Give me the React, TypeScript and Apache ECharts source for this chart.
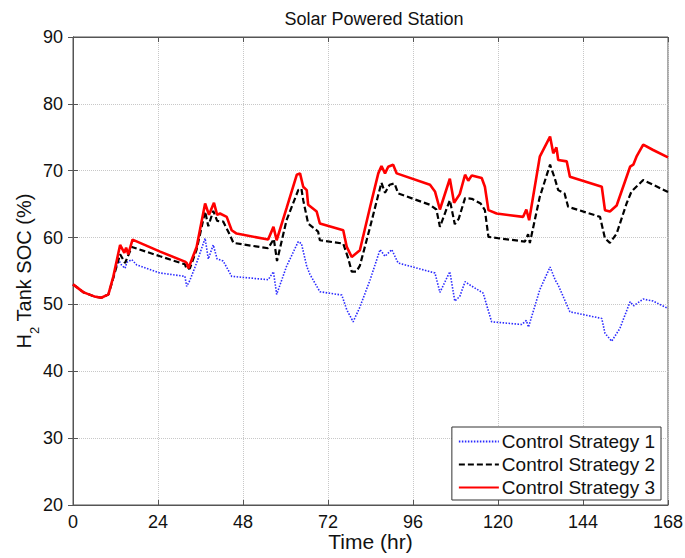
import React, { useEffect, useRef } from "react";
import * as echarts from "echarts";

const xTicks = [0, 24, 48, 72, 96, 120, 144, 168];
const seriesNames = ["Control Strategy 1", "Control Strategy 2", "Control Strategy 3"];

const strategy1: [number, number][] = [
  [0, 53], [3, 51.8], [6, 51.2], [8, 51], [10, 51.5], [11.4, 54], [12.8, 56.7], [13.7, 55.9],
  [14.7, 55.4], [15.2, 56.3], [16.6, 56.7], [18, 55.9], [24.6, 54.7], [31.6, 54.2], [32.1, 52.7],
  [33, 53.6], [34.9, 56.2], [37.3, 59.9], [38.2, 56.8], [39.6, 58.9], [40.7, 56.8], [42.4, 56.5],
  [44.8, 54.2], [55.1, 53.7], [56.6, 54.9], [57.5, 51.5], [60.3, 55.7], [63.6, 59.4], [64.5, 59.1],
  [66, 55.7], [66.9, 54.5], [69.7, 51.9], [75.9, 51.4], [77.3, 49.2], [79.1, 47.4], [81, 49.6],
  [83.9, 53.7], [86.7, 58.2], [88.1, 57.2], [90, 58.2], [91.8, 56.2], [100.8, 54.9], [102.2, 54.7],
  [103.6, 51.8], [106.4, 54.9], [107.8, 50.5], [109.2, 51.2], [110.7, 53.4], [112.1, 52.9],
  [115.8, 51.7], [118.2, 47.4], [126.7, 47], [128, 47.6], [128.6, 46.6], [131.8, 52.2],
  [134.7, 55.6], [136.2, 53.6], [137, 52.9], [140.3, 48.9], [149.3, 47.9], [150.2, 45.7],
  [152.1, 44.5], [154.4, 46.4], [157.3, 50.4], [158.3, 49.8], [161, 50.8], [163.8, 50.5], [168, 49.4],
];

const strategy2: [number, number][] = [
  [0, 53], [3, 51.8], [6, 51.2], [8, 51], [10, 51.5], [11.4, 54], [13.3, 57.5], [14.7, 56.2],
  [16.6, 58.6], [24.6, 57.2], [31.6, 56], [32.1, 55.3], [33, 55.4], [34.9, 58.2], [37.3, 63.9],
  [38.2, 61.7], [39.6, 64], [40.7, 62.5], [42.4, 62.4], [44.3, 60.4], [45.3, 59.2], [55.1, 58.4],
  [56.7, 59.8], [57.6, 56.5], [60.3, 62.6], [63.6, 67.1], [64.5, 67.3], [65, 65.6], [66.4, 62.1],
  [69.2, 60.9], [69.7, 59.6], [76.3, 59.1], [77.7, 56.9], [78.7, 54.9], [80, 54.9], [81, 55.8],
  [83.9, 61.6], [86.2, 66.4], [87.1, 68.2], [88.1, 66.7], [89.4, 67.9], [90.8, 68.1], [91.8, 66.6],
  [100.8, 64.9], [102.6, 64.2], [103.6, 61.6], [106.4, 65.6], [107.8, 62], [108.9, 62.8],
  [110.7, 65.9], [112.6, 65.8], [115.1, 65.1], [116.3, 64.1], [117.3, 60.1], [120.1, 59.9],
  [127.6, 59.4], [128.5, 60.5], [129, 59.2], [131.8, 66.1], [134.7, 70.9], [136, 68.9], [137, 67.1],
  [138.8, 66.6], [139.8, 64.6], [148.8, 63.1], [150.2, 59.9], [151.6, 59.2], [153.5, 60.6],
  [156.3, 65.1], [157.7, 66.9], [161, 68.6], [163.8, 67.9], [168, 66.8],
];

const strategy3: [number, number][] = [
  [0, 53], [3, 51.8], [6, 51.2], [8, 51], [10, 51.5], [11.4, 54.2], [13.3, 58.9], [14.5, 57.7],
  [15, 58.5], [15.6, 57.5], [16.8, 59.7], [24.6, 57.9], [31.6, 56.4], [32.1, 56.2], [32.6, 55.4],
  [34.9, 58.6], [37.3, 65.1], [38.4, 63.4], [39.8, 65.2], [40.7, 63.4], [41.5, 63.6], [43.4, 63.1],
  [44.8, 61.1], [46.2, 60.6], [55.1, 59.7], [56.6, 61.6], [57.5, 59.6], [60.3, 64.4], [63.2, 69.4],
  [64.1, 69.6], [65, 67.6], [66, 67.1], [66.4, 64.9], [68.8, 63.9], [69.7, 62.1], [76.3, 61.1],
  [77.3, 58.6], [78.7, 57.1], [81, 58.1], [83.9, 64.6], [86.2, 69.6], [87.1, 70.7], [88.1, 69.6],
  [89, 70.6], [90.4, 70.9], [91.4, 69.6], [100.8, 67.9], [102.2, 66.9], [103.6, 64.2], [106.4, 68.8],
  [107.6, 65.2], [109.2, 66.5], [110.7, 69.4], [111.6, 68.5], [112.6, 69.3], [115.4, 68.9],
  [116.3, 67.6], [117.3, 64.1], [119.6, 63.6], [127.1, 63.1], [128, 64.2], [128.8, 62.6],
  [131.8, 72.1], [134.7, 75.1], [135.6, 72.6], [136.5, 73.5], [137, 71.6], [139.4, 71.4],
  [140.3, 69.1], [149.3, 67.6], [150.2, 64.1], [151.6, 63.9], [153.5, 64.8], [157.3, 70.6],
  [158.2, 70.9], [159.1, 72.1], [161, 73.9], [163.8, 73.1], [168, 72],
];

const FONT = "Liberation Sans, Arial, sans-serif";

export default function App() {
  const ref = useRef<HTMLDivElement>(null);
  useEffect(() => {
    document.body.style.margin = "0";
    if (!ref.current) return;
    const chart = echarts.init(ref.current, undefined, { renderer: "svg" });
    const gridCol = "#c8c8c8";
    const axisCol = "#555";
    chart.setOption({
      animation: false,
      backgroundColor: "#fff",
      title: {
        text: "Solar Powered Station",
        left: 369,
        top: 5,
        textAlign: "center",
        textStyle: { fontFamily: FONT, fontSize: 18, fontWeight: "normal", color: "#111" },
      },
      grid: {
        left: 73, right: 17, top: 37, bottom: 53,
        containLabel: false,
        outerBoundsMode: "none",
        show: true, borderColor: axisCol, borderWidth: 1,
      },
      legend: {
        orient: "vertical",
        right: 24,
        bottom: 58,
        backgroundColor: "#fff",
        borderColor: "#333",
        borderWidth: 1,
        borderRadius: 0,
        padding: [5, 6, 3, 6],
        itemWidth: 40,
        itemHeight: 14,
        itemGap: 4,
        itemStyle: { opacity: 0 },
        textStyle: { fontFamily: FONT, fontSize: 19, color: "#111", padding: [0, 0, 0, -2] },
        data: seriesNames,
      },
      xAxis: [
        {
          type: "value", min: 0, max: 168, interval: 24,
          name: "Time (hr)", nameLocation: "middle", nameGap: 26, nameMoveOverlap: false,
          nameTextStyle: { fontFamily: FONT, fontSize: 21, color: "#111" },
          axisLine: { show: true, lineStyle: { color: axisCol } },
          axisTick: { show: true, inside: true, length: 5, lineStyle: { color: axisCol } },
          axisLabel: { fontFamily: FONT, fontSize: 18, color: "#111", margin: 8,
            formatter: (v: number) => (xTicks.includes(v) ? String(v) : "") },
          splitLine: { show: true, lineStyle: { color: gridCol, type: "dotted" } },
        },
        {
          type: "value", min: 0, max: 168, interval: 24, position: "top",
          axisLine: { show: true, lineStyle: { color: axisCol } },
          axisTick: { show: true, inside: true, length: 5, lineStyle: { color: axisCol } },
          axisLabel: { show: false },
          splitLine: { show: false },
        },
      ],
      yAxis: [
        {
          type: "value", min: 20, max: 90, interval: 10,
          name: "{a|H}{s|2}{a| Tank SOC (%)}",
          nameLocation: "middle", nameGap: 39, nameMoveOverlap: false,
          nameTextStyle: {
            fontFamily: FONT, fontSize: 20, color: "#111",
            rich: {
              a: { fontFamily: FONT, fontSize: 20, color: "#111", lineHeight: 24, verticalAlign: "bottom" },
              s: { fontFamily: FONT, fontSize: 13, color: "#111", lineHeight: 24, verticalAlign: "bottom", padding: [0, 0, -7, 0] },
            },
          },
          axisLine: { show: true, lineStyle: { color: axisCol } },
          axisTick: { show: true, inside: true, length: 5, lineStyle: { color: axisCol } },
          axisLabel: { fontFamily: FONT, fontSize: 18, color: "#111", margin: 10 },
          splitLine: { show: true, lineStyle: { color: gridCol, type: "dotted" } },
        },
        {
          type: "value", min: 20, max: 90, interval: 10, position: "right",
          axisLine: { show: true, lineStyle: { color: axisCol } },
          axisTick: { show: true, inside: true, length: 5, lineStyle: { color: axisCol } },
          axisLabel: { show: false },
          splitLine: { show: false },
        },
      ],
      series: [
        {
          name: seriesNames[0], type: "line", data: strategy1, symbol: "none", showSymbol: false,
          lineStyle: { color: "#2a2aff", width: 1.6, type: [1.5, 1.5] },
          itemStyle: { color: "#2a2aff" },
        },
        {
          name: seriesNames[1], type: "line", data: strategy2, symbol: "none", showSymbol: false,
          lineStyle: { color: "#000", width: 2.2, type: [6, 3] },
          itemStyle: { color: "#000" },
        },
        {
          name: seriesNames[2], type: "line", data: strategy3, symbol: "none", showSymbol: false,
          lineStyle: { color: "#ff0000", width: 2.6 },
          itemStyle: { color: "#ff0000" },
        },
      ],
    });
    return () => chart.dispose();
  }, []);
  return <div ref={ref} style={{ width: 685, height: 558 }} />;
}
